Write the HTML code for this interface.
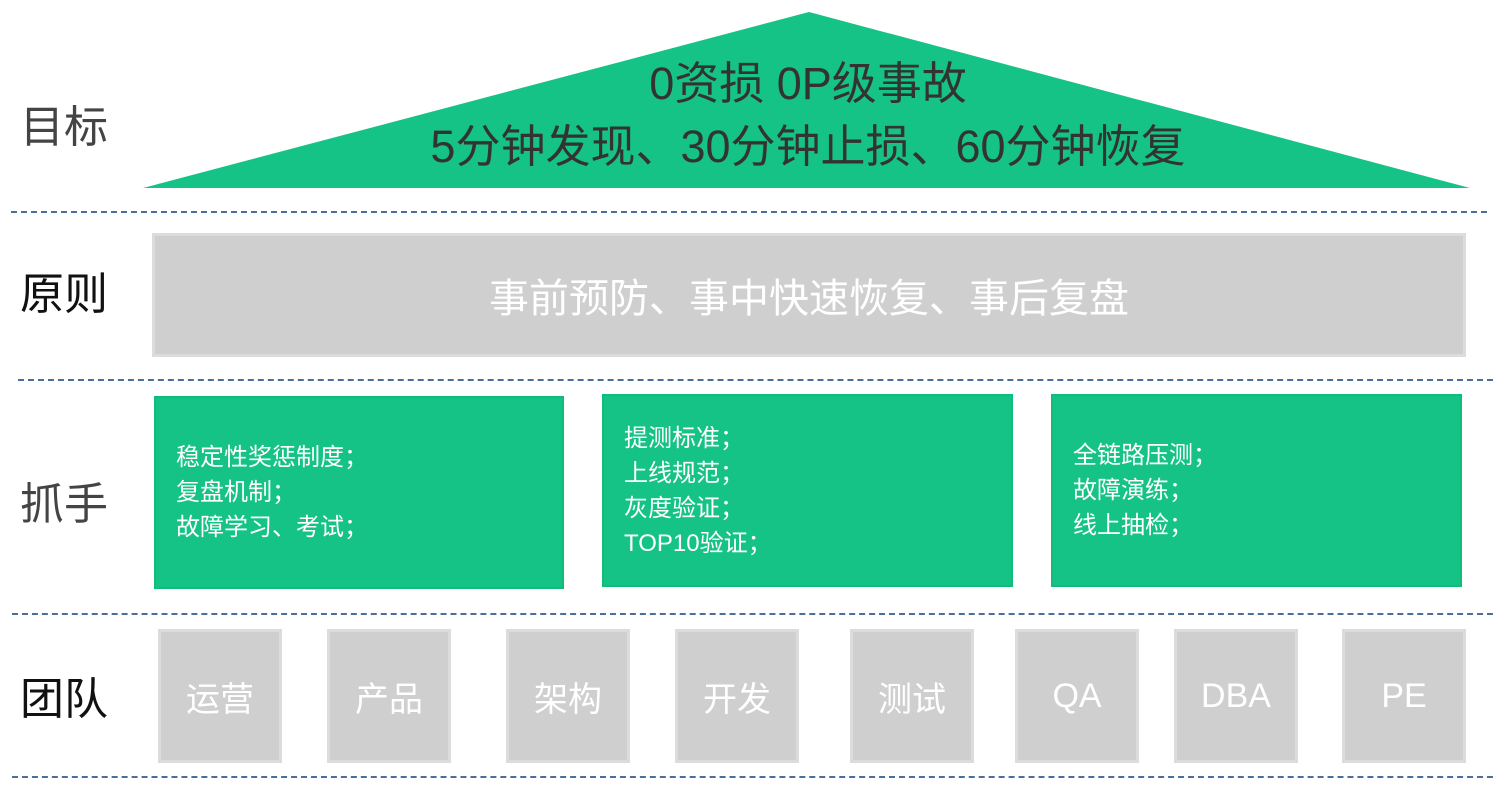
<!DOCTYPE html>
<html><head><meta charset="utf-8"><style>
body{margin:0;width:1511px;height:792px;background:#fff;position:relative;overflow:hidden;font-family:"Liberation Sans","Noto Sans CJK SC",sans-serif}
.a{position:absolute}
.lbl{position:absolute;left:20px;font-size:44px;line-height:50px}
.dash{position:absolute;height:0;border-top:2px dashed #4a6f9a}
.g{position:absolute;background:#16c386;border:2px solid #10bb7c;box-sizing:border-box;color:#fff;font-size:24px;line-height:35px;padding-left:20px;display:flex;flex-direction:column;justify-content:center}
.t{position:absolute;top:629px;width:124px;height:134px;background:#d0cfd0;border:3px solid #dcdcdc;box-sizing:border-box;color:#fff;font-size:34px;display:flex;align-items:center;justify-content:center}
</style></head><body>
<svg class="a" style="left:0;top:0" width="1511" height="200"><polygon points="809,12 143,188 1470,188" fill="#16c386"/></svg>
<div class="a" style="left:0;width:1616px;top:57px;text-align:center;font-size:45px;line-height:54px;color:#333">0资损 0P级事故</div>
<div class="a" style="left:0;width:1616px;top:120px;text-align:center;font-size:45px;line-height:54px;color:#333">5分钟发现、30分钟止损、60分钟恢复</div>
<div class="lbl" style="top:103px;color:#444">目标</div>
<div class="lbl" style="top:270px;color:#111">原则</div>
<div class="lbl" style="top:480px;color:#444">抓手</div>
<div class="lbl" style="top:675px;color:#111">团队</div>
<div class="dash" style="left:11px;width:1476px;top:211px"></div>
<div class="dash" style="left:18px;width:1475px;top:379px"></div>
<div class="dash" style="left:12px;width:1481px;top:613px"></div>
<div class="dash" style="left:12px;width:1481px;top:776px"></div>
<div class="a" style="left:152px;top:233px;width:1314px;height:124px;background:#d0cfd0;border:3px solid #dcdcdc;box-sizing:border-box;color:#fff;font-size:40px;display:flex;align-items:center;justify-content:center">事前预防、事中快速恢复、事后复盘</div>
<div class="g" style="left:154px;top:396px;width:410px;height:193px"><div>稳定性奖惩制度；</div><div>复盘机制；</div><div>故障学习、考试；</div></div>
<div class="g" style="left:602px;top:394px;width:411px;height:193px"><div>提测标准；</div><div>上线规范；</div><div>灰度验证；</div><div>TOP10验证；</div></div>
<div class="g" style="left:1051px;top:394px;width:411px;height:193px"><div>全链路压测；</div><div>故障演练；</div><div>线上抽检；</div></div>
<div class="t" style="left:158px">运营</div>
<div class="t" style="left:327px">产品</div>
<div class="t" style="left:506px">架构</div>
<div class="t" style="left:675px">开发</div>
<div class="t" style="left:850px">测试</div>
<div class="t" style="left:1015px">QA</div>
<div class="t" style="left:1174px">DBA</div>
<div class="t" style="left:1342px">PE</div>
</body></html>
